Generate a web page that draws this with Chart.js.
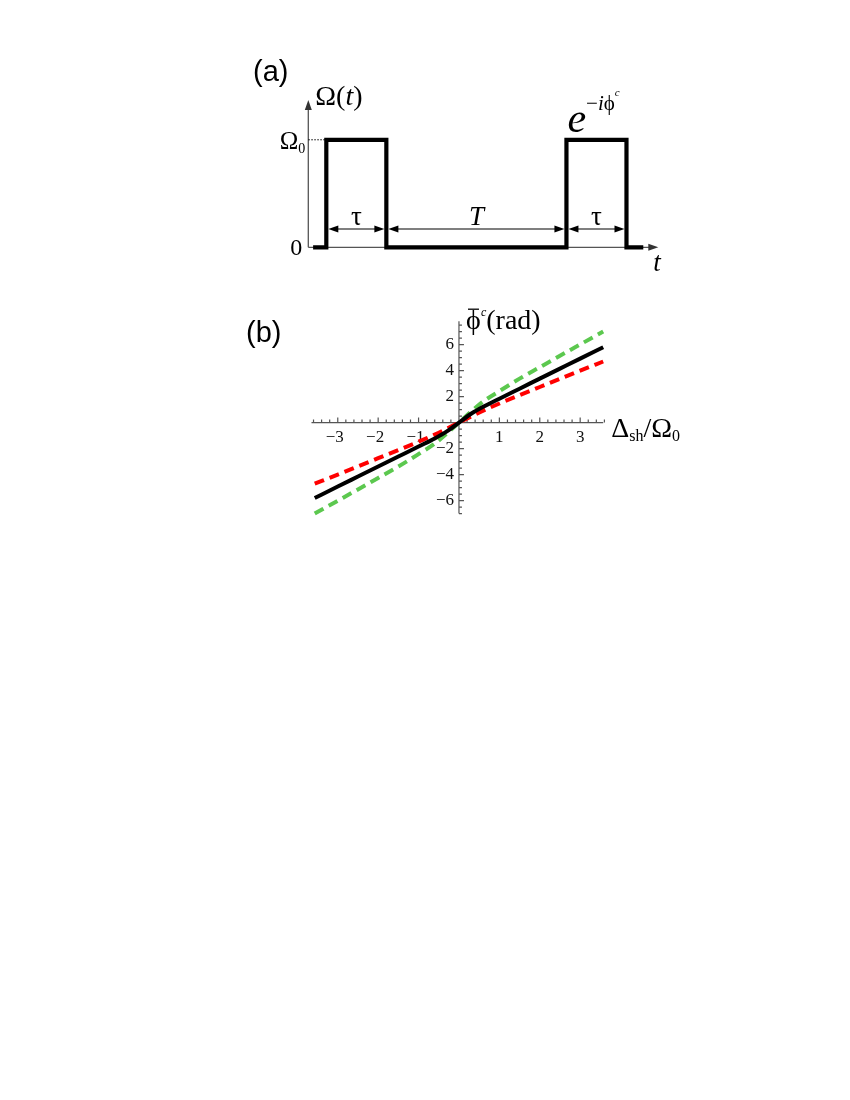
<!DOCTYPE html>
<html>
<head>
<meta charset="utf-8">
<script src="https://cdn.jsdelivr.net/npm/chart.js@4.4.0/dist/chart.umd.min.js"></script>
<style>
  html, body { margin: 0; padding: 0; background: #fff; }
  body { width: 850px; height: 1100px; position: relative; overflow: hidden; }
  canvas { position: absolute; }
  #pulso { left: 230px; top: 50px; }
  #fase { left: 230px; top: 290px; }
</style>
</head>
<body>
<canvas id="pulso" width="450" height="240"></canvas>
<canvas id="fase" width="470" height="240"></canvas>
<script>
// (a) sequencia de pulsos, tempo em unidades de tau
const pulsoT = [0.08, 0.3, 0.3, 1.3, 1.3, 4.3, 4.3, 5.3, 5.3, 5.58];
const pulsoOmega = [0, 0, 1, 1, 0, 0, 1, 1, 0, 0];
const intervaloInicio = [0.3, 1.3, 4.3];
const intervaloFim = [1.3, 4.3, 5.3];
const intervaloNome = ["τ", "T", "τ"];

// (b) fase em funcao de Delta_sh / Omega_0
const deltaSh = [-3.57, -3, -2.5, -2, -1.5, -1, -0.6, -0.3, 0, 0.3, 0.6, 1, 1.5, 2, 2.5, 3, 3.57];
const faseExata = [-5.8, -4.92, -4.15, -3.38, -2.61, -1.84, -1.22, -0.68, 0, 0.68, 1.22, 1.84, 2.61, 3.38, 4.15, 4.92, 5.8];
const faseVerde = [-7.0, -6.01, -5.14, -4.26, -3.38, -2.42, -1.62, -0.84, 0, 0.84, 1.62, 2.42, 3.38, 4.26, 5.14, 6.01, 7.0];
const faseVermelha = [-4.7, -4.0, -3.37, -2.74, -2.11, -1.47, -0.92, -0.47, 0, 0.47, 0.92, 1.47, 2.11, 2.74, 3.37, 4.0, 4.7];
const ticksX = [-3, -2, -1, 1, 2, 3];
const ticksY = [-6, -4, -2, 2, 4, 6];

const SERIF = '"Liberation Serif", "Times New Roman", serif';
const SANS = '"Liberation Sans", Arial, sans-serif';

function pontos(xs, ys) {
  return xs.map((x, i) => ({ x: x, y: ys[i] }));
}

// escreve pedacos de texto em sequencia: [texto, fonte, deslocamentoY]
function escreve(ctx, pedacos, x, y, alinhar) {
  let largura = 0;
  pedacos.forEach(p => { ctx.font = p[1]; largura += ctx.measureText(p[0]).width; });
  let cx = alinhar === "right" ? x - largura : x;
  ctx.textAlign = "left";
  pedacos.forEach(p => {
    ctx.font = p[1];
    ctx.fillText(p[0], cx, y + (p[2] || 0));
    cx += ctx.measureText(p[0]).width;
  });
}

function ponta(ctx, x, y, ang, comp, larg) {
  ctx.save();
  ctx.translate(x, y);
  ctx.rotate(ang);
  ctx.beginPath();
  ctx.moveTo(0, 0);
  ctx.lineTo(-comp, -larg);
  ctx.lineTo(-comp, larg);
  ctx.closePath();
  ctx.fill();
  ctx.restore();
}

const desenhoPulso = {
  id: "desenhoPulso",
  beforeDatasetsDraw(chart) {
    const ctx = chart.ctx, xs = chart.scales.x, ys = chart.scales.y;
    const x0 = xs.getPixelForValue(0), y0 = ys.getPixelForValue(0);
    const xFim = xs.getPixelForValue(xs.max), yTopo = ys.getPixelForValue(ys.max);
    ctx.save();
    ctx.strokeStyle = "#555";
    ctx.fillStyle = "#333";
    ctx.lineWidth = 1.3;
    ctx.beginPath();
    ctx.moveTo(x0, y0); ctx.lineTo(x0, yTopo + 6);
    ctx.moveTo(x0, y0); ctx.lineTo(xFim - 6, y0);
    ctx.stroke();
    ponta(ctx, x0, yTopo, -Math.PI / 2, 10, 3.5);
    ponta(ctx, xFim, y0, 0, 10, 3.5);
    // linha pontilhada no nivel Omega_0
    ctx.strokeStyle = "#000";
    ctx.lineWidth = 1;
    ctx.setLineDash([1.5, 1.5]);
    ctx.beginPath();
    ctx.moveTo(x0, ys.getPixelForValue(1));
    ctx.lineTo(xs.getPixelForValue(pulsoT[1]), ys.getPixelForValue(1));
    ctx.stroke();
    ctx.restore();
  },
  afterDatasetsDraw(chart) {
    const ctx = chart.ctx, xs = chart.scales.x, ys = chart.scales.y;
    const x0 = xs.getPixelForValue(0), y0 = ys.getPixelForValue(0);
    const y1 = ys.getPixelForValue(1);
    ctx.save();
    ctx.fillStyle = "#000";
    ctx.strokeStyle = "#000";
    ctx.textBaseline = "alphabetic";
    // setas de duracao
    const ySeta = ys.getPixelForValue(0.17);
    ctx.lineWidth = 1.2;
    intervaloInicio.forEach((ini, i) => {
      const a = xs.getPixelForValue(ini) + 2, b = xs.getPixelForValue(intervaloFim[i]) - 2;
      ctx.beginPath();
      ctx.moveTo(a + 4, ySeta); ctx.lineTo(b - 4, ySeta);
      ctx.stroke();
      ponta(ctx, a, ySeta, Math.PI, 10, 3.5);
      ponta(ctx, b, ySeta, 0, 10, 3.5);
      const italico = intervaloNome[i] === "T" ? "italic " : "";
      ctx.font = italico + "27px " + SERIF;
      ctx.textAlign = "center";
      ctx.fillText(intervaloNome[i], (a + b) / 2, ySeta - 4);
    });
    // rotulos
    ctx.textAlign = "left";
    ctx.font = "29px " + SANS;
    ctx.fillText("(a)", 23, 31);
    escreve(ctx, [["Ω(", "28px " + SERIF], ["t", "italic 28px " + SERIF], [")", "28px " + SERIF]], x0 + 7, ys.getPixelForValue(ys.max) + 5);
    escreve(ctx, [["Ω", "25px " + SERIF], ["0", "14px " + SERIF, 4]], x0 - 3, y1 + 9, "right");
    ctx.font = "24px " + SERIF;
    ctx.textAlign = "right";
    ctx.fillText("0", x0 - 6, y0 + 8);
    ctx.textAlign = "left";
    ctx.font = "italic 27px " + SERIF;
    ctx.fillText("t", xs.getPixelForValue(xs.max) - 5, y0 + 24);
    escreve(ctx, [["e", "italic 42px " + SERIF], ["−", "21px " + SERIF, -22], ["i", "italic 21px " + SERIF, -22], ["ϕ", "21px " + SERIF, -22], ["c", "italic 11px " + SERIF, -36]], xs.getPixelForValue(pulsoT[6]) + 1, y1 - 8);
    ctx.restore();
  }
};

new Chart(document.getElementById("pulso"), {
  type: "scatter",
  data: {
    datasets: [{
      data: pontos(pulsoT, pulsoOmega),
      showLine: true,
      borderColor: "#000",
      borderWidth: 4.2,
      borderJoinStyle: "miter",
      pointRadius: 0,
      tension: 0,
      clip: false
    }]
  },
  options: {
    responsive: false,
    animation: false,
    events: [],
    layout: { padding: { left: 78.3, right: 21.7, top: 50, bottom: 42.7 } },
    plugins: { legend: { display: false }, tooltip: { enabled: false } },
    scales: {
      x: { type: "linear", display: false, min: 0, max: 5.83 },
      y: { type: "linear", display: false, min: 0, max: 1.37 }
    }
  },
  plugins: [desenhoPulso]
});

const eixosFase = {
  id: "eixosFase",
  beforeDatasetsDraw(chart) {
    const ctx = chart.ctx, xs = chart.scales.x, ys = chart.scales.y;
    const x0 = xs.getPixelForValue(0), y0 = ys.getPixelForValue(0);
    ctx.save();
    ctx.strokeStyle = "#555";
    ctx.lineWidth = 1.2;
    ctx.beginPath();
    ctx.moveTo(xs.left, y0); ctx.lineTo(xs.right, y0);
    ctx.moveTo(x0, ys.top); ctx.lineTo(x0, ys.bottom);
    // marcas menores e maiores
    for (let v = -3.6; v <= 3.61; v += 0.2) {
      const px = xs.getPixelForValue(v);
      const maior = Math.abs(v - Math.round(v)) < 0.01;
      ctx.moveTo(px, y0); ctx.lineTo(px, y0 - (maior ? 5 : 3));
    }
    for (let v = -7; v <= 7.6; v += 0.5) {
      const py = ys.getPixelForValue(v);
      const maior = Math.abs(v / 2 - Math.round(v / 2)) < 0.01;
      ctx.moveTo(x0, py); ctx.lineTo(x0 + (maior ? 5 : 3), py);
    }
    ctx.stroke();
    ctx.fillStyle = "#111";
    ctx.font = "17px " + SERIF;
    ctx.textBaseline = "middle";
    ctx.textAlign = "center";
    ticksX.forEach(v => {
      ctx.fillText((v < 0 ? "−" : "") + Math.abs(v), xs.getPixelForValue(v) - (v < 0 ? 3 : 0), y0 + 15);
    });
    ctx.textAlign = "right";
    ticksY.forEach(v => {
      ctx.fillText((v < 0 ? "−" : "") + Math.abs(v), x0 - 5, ys.getPixelForValue(v));
    });
    ctx.restore();
  },
  afterDraw(chart) {
    const ctx = chart.ctx, xs = chart.scales.x, ys = chart.scales.y;
    const x0 = xs.getPixelForValue(0), y0 = ys.getPixelForValue(0);
    ctx.save();
    ctx.fillStyle = "#000";
    ctx.textBaseline = "alphabetic";
    ctx.textAlign = "left";
    ctx.font = "29px " + SANS;
    ctx.fillText("(b)", 16, 52);
    escreve(ctx, [["Δ", "28px " + SERIF], ["sh", "16px " + SERIF, 4], ["/Ω", "28px " + SERIF], ["0", "16px " + SERIF, 4]], xs.right + 8, y0 + 14);
    const yRot = ys.top + 8;
    escreve(ctx, [["ϕ", "28px " + SERIF]], x0 + 7, yRot);
    ctx.strokeStyle = "#000";
    ctx.lineWidth = 1.3;
    ctx.beginPath();
    ctx.moveTo(x0 + 9, ys.top - 12); ctx.lineTo(x0 + 20, ys.top - 12);
    ctx.stroke();
    escreve(ctx, [["c", "italic 12px " + SERIF, -13], ["(rad)", "28px " + SERIF]], x0 + 22, yRot);
    ctx.restore();
  }
};

new Chart(document.getElementById("fase"), {
  type: "scatter",
  data: {
    datasets: [
      {
        label: "exata",
        data: pontos(deltaSh, faseExata),
        borderColor: "#000",
        borderWidth: 4
      },
      {
        label: "aprox. 1",
        data: pontos(deltaSh, faseVermelha),
        borderColor: "#ff0000",
        borderWidth: 4,
        borderDash: [10, 6]
      },
      {
        label: "aprox. 2",
        data: pontos(deltaSh, faseVerde),
        borderColor: "#5cc84f",
        borderWidth: 4,
        borderDash: [10, 6]
      }
    ].map(d => Object.assign(d, { showLine: true, pointRadius: 0, cubicInterpolationMode: "monotone", clip: false }))
  },
  options: {
    responsive: false,
    animation: false,
    events: [],
    layout: { padding: { left: 81.5, right: 96.8, top: 31.2, bottom: 16.4 } },
    plugins: { legend: { display: false }, tooltip: { enabled: false } },
    scales: {
      x: { type: "linear", display: false, min: -3.65, max: 3.57 },
      y: { type: "linear", display: false, min: -7.0, max: 7.8 }
    }
  },
  plugins: [eixosFase]
});
</script>
</body>
</html>
